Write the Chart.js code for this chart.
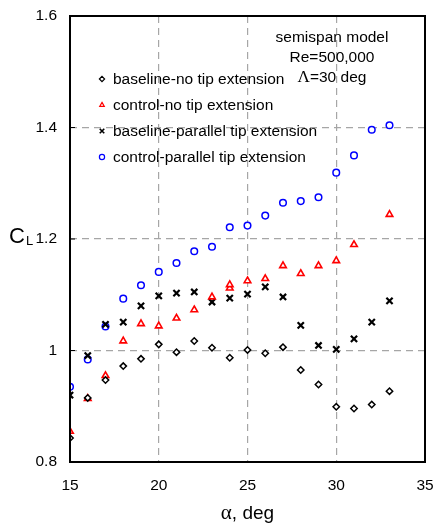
<!DOCTYPE html>
<html>
<head>
<meta charset="utf-8">
<script src="https://cdn.jsdelivr.net/npm/chart.js@4.4.1/dist/chart.umd.min.js"></script>
<style>
  html, body { margin: 0; padding: 0; background: #fff; }
  #wrap { width: 433px; height: 525px; position: relative; }
</style>
</head>
<body>
<div id="wrap"><canvas id="cl"></canvas></div>
<script>
// angle of attack, deg
const alpha = [15, 16, 17, 18, 19, 20, 21, 22, 23, 24, 25, 26, 27, 28, 29, 30, 31, 32, 33];
// control-no tip has a repeated point at 24 deg and none at 32 deg
const alphaCtrlNoTip = [15, 16, 17, 18, 19, 20, 21, 22, 23, 24, 24, 25, 26, 27, 28, 29, 30, 31, 33];

const baseNoTip = [0.843, 0.915, 0.947, 0.972, 0.985, 1.011, 0.997, 1.017, 1.005, 0.987, 1.001,
                   0.995, 1.006, 0.965, 0.939, 0.899, 0.896, 0.903, 0.927];
const ctrlNoTip = [0.855, 0.914, 0.955, 1.017, 1.048, 1.044, 1.058, 1.073, 1.096, 1.112, 1.118,
                   1.125, 1.129, 1.152, 1.138, 1.152, 1.161, 1.190, 1.244];
const baseParallel = [0.920, 0.991, 1.047, 1.051, 1.080, 1.098, 1.103, 1.105, 1.087, 1.094, 1.101,
                      1.114, 1.096, 1.045, 1.009, 1.002, 1.021, 1.051, 1.089];
const ctrlParallel = [0.935, 0.984, 1.043, 1.093, 1.117, 1.141, 1.157, 1.178, 1.186, 1.221, 1.224,
                      1.242, 1.265, 1.268, 1.275, 1.319, 1.350, 1.396, 1.404];

const seriesNames = ['baseline-no tip extension', 'control-no tip extension',
                     'baseline-parallel tip extension', 'control-parallel tip extension'];
const noteLines = ['semispan model', 'Re=500,000', '=30 deg'];

const xTicks = [15, 20, 25, 30, 35];
const yTicks = [0.8, 1.0, 1.2, 1.4, 1.6];

const FONT = '"Liberation Sans", Arial, Helvetica, sans-serif';
const SERIF = '"Liberation Serif", "Times New Roman", serif';

function pts(xs, ys) {
  return xs.map((x, i) => ({ x: x, y: ys[i] }));
}

function yLabel(v) {
  return Math.abs(v - 1) < 1e-9 ? '1' : v.toFixed(1);
}

const frame = {
  id: 'frame',
  afterDraw(chart) {
    const ctx = chart.ctx;
    const a = chart.chartArea;
    const ys = chart.scales.y;
    ctx.save();
    // box
    ctx.strokeStyle = '#000';
    ctx.lineWidth = 2;
    ctx.strokeRect(a.left, a.top, a.right - a.left, a.bottom - a.top);
    // small inward ticks on the left
    ctx.lineWidth = 1;
    yTicks.forEach(v => {
      const y = ys.getPixelForValue(v);
      ctx.beginPath(); ctx.moveTo(a.left, y); ctx.lineTo(a.left + 5, y); ctx.stroke();
    });

    // legend inside the plot
    chart.data.datasets.forEach((ds, i) => {
      const y = 79 + i * 26;
      const px = 102;
      const cross = ds.pointStyle === 'crossRot';
      ctx.strokeStyle = ds.borderColor;
      ctx.fillStyle = '#fff';
      ctx.lineWidth = cross ? 1.6 : 1.2;
      Chart.helpers.drawPoint(ctx, { pointStyle: ds.pointStyle, radius: cross ? 3.2 : 2.6,
                                     rotation: 0, borderWidth: ctx.lineWidth }, px, y);
      ctx.fillStyle = '#000';
      ctx.font = '15.5px ' + FONT;
      ctx.textAlign = 'left';
      ctx.textBaseline = 'middle';
      ctx.fillText(ds.label, 113, y + 1);
    });

    // note, top right
    ctx.fillStyle = '#000';
    ctx.font = '15.5px ' + FONT;
    ctx.textAlign = 'center';
    ctx.textBaseline = 'middle';
    ctx.fillText(noteLines[0], 332, 38);
    ctx.fillText(noteLines[1], 332, 58);
    ctx.font = '17px ' + SERIF;
    const lam = '\u039B';
    const lw = ctx.measureText(lam).width;
    ctx.font = '15.5px ' + FONT;
    const tw = ctx.measureText(noteLines[2]).width;
    const sx = 332 - (lw + tw) / 2;
    ctx.textAlign = 'left';
    ctx.font = '17px ' + SERIF;
    ctx.fillText(lam, sx, 78);
    ctx.font = '15.5px ' + FONT;
    ctx.fillText(noteLines[2], sx + lw, 78);

    // x-axis title: alpha, deg
    ctx.font = '21px ' + SERIF;
    const al = '\u03B1';
    const aw = ctx.measureText(al).width;
    ctx.font = '19px ' + FONT;
    const dw = ctx.measureText(', deg').width;
    const cx = (a.left + a.right) / 2;
    const x0 = cx - (aw + dw) / 2;
    ctx.textBaseline = 'alphabetic';
    ctx.font = '21px ' + SERIF;
    ctx.fillText(al, x0, 519);
    ctx.font = '19px ' + FONT;
    ctx.fillText(', deg', x0 + aw, 519);

    // y-axis title: C_L
    ctx.font = '22px ' + FONT;
    ctx.fillText('C', 9, 243);
    ctx.font = '13px ' + FONT;
    ctx.fillText('L', 26, 245);
    ctx.restore();
  }
};

const dashGrid = (edges) => ({
  color: (c) => (edges.includes(c.tick.value) ? 'rgba(0,0,0,0)' : '#a6a6a6'),
  lineWidth: 1.2,
  drawTicks: false
});

new Chart(document.getElementById('cl'), {
  type: 'scatter',
  data: {
    datasets: [
      { label: seriesNames[0], data: pts(alpha, baseNoTip), pointStyle: 'rectRot', pointRadius: 3.2,
        borderColor: '#000', backgroundColor: '#fff', borderWidth: 1.5 },
      { label: seriesNames[1], data: pts(alphaCtrlNoTip, ctrlNoTip), pointStyle: 'triangle', pointRadius: 3.8,
        borderColor: '#ff0000', backgroundColor: '#fff', borderWidth: 1.6 },
      { label: seriesNames[2], data: pts(alpha, baseParallel), pointStyle: 'crossRot', pointRadius: 4.4,
        borderColor: '#000', backgroundColor: '#000', borderWidth: 2.2 },
      { label: seriesNames[3], data: pts(alpha, ctrlParallel), pointStyle: 'circle', pointRadius: 3.3,
        borderColor: '#0000ff', backgroundColor: '#fff', borderWidth: 1.5 }
    ]
  },
  options: {
    responsive: true,
    maintainAspectRatio: false,
    animation: false,
    events: [],
    layout: { padding: { left: 0, right: 8, top: 16, bottom: 0 } },
    plugins: { legend: { display: false }, tooltip: { enabled: false } },
    scales: {
      x: {
        type: 'linear', min: 15, max: 35,
        afterBuildTicks: (s) => { s.ticks = xTicks.map(v => ({ value: v })); },
        afterFit: (s) => { s.height = 63; s.paddingLeft = 0; s.paddingRight = 0; },
        grid: dashGrid([15, 35]),
        border: { display: false, dash: [7, 5] },
        ticks: { color: '#000', font: { family: FONT, size: 15.5 }, padding: 14, maxRotation: 0 }
      },
      y: {
        type: 'linear', min: 0.8, max: 1.6,
        afterBuildTicks: (s) => { s.ticks = yTicks.map(v => ({ value: v })); },
        afterFit: (s) => { s.width = 70; s.paddingTop = 0; s.paddingBottom = 0; },
        grid: dashGrid([0.8, 1.6]),
        border: { display: false, dash: [7, 5] },
        ticks: { color: '#000', font: { family: FONT, size: 15.5 }, padding: 13,
                 callback: (v) => yLabel(v) }
      }
    }
  },
  plugins: [frame]
});
</script>
</body>
</html>
